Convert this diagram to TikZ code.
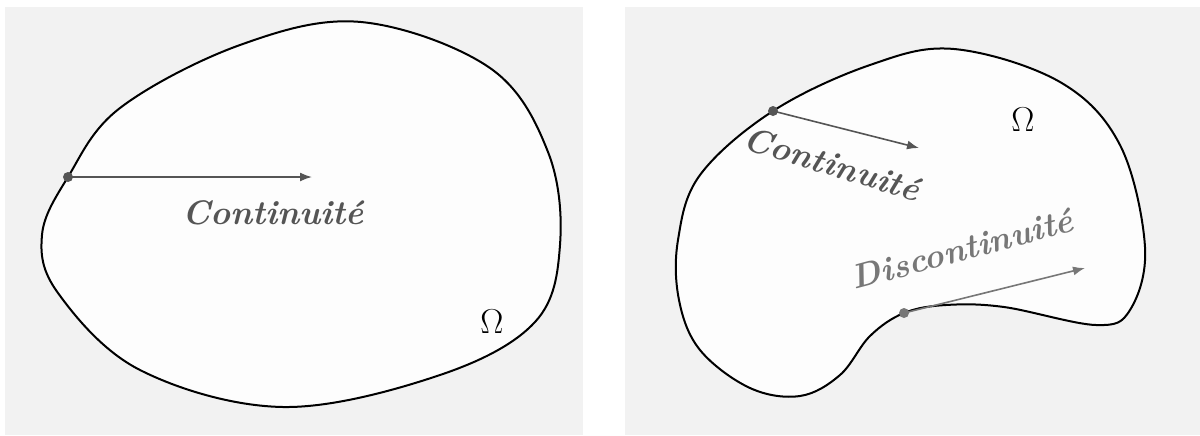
\documentclass[tikz,border=0pt]{standalone}
\usepackage{fontspec}
\usetikzlibrary{arrows.meta}
\definecolor{panel}{HTML}{F2F2F2}
\definecolor{inner}{HTML}{FDFDFD}
\definecolor{darkg}{HTML}{555555}
\definecolor{lightg}{HTML}{777777}
\tikzset{
  panelbox/.style={fill=panel, draw=none},
  blob/.style={draw=black, line width=1pt, fill=inner},
  vec/.style={line width=0.8pt, -{Latex[length=6pt,width=4.5pt]}},
  dotmark/.style={circle, fill=#1, inner sep=0pt, minimum size=5pt},
  scrlabel/.style={text=#1, font=\bfseries\itshape\fontsize{17}{20}\selectfont, inner sep=0pt},
  omega/.style={font=\fontsize{18}{21}\selectfont, inner sep=0pt}
}
\begin{document}
\begin{tikzpicture}[x=0.5pt,y=-0.5pt]
\useasboundingbox (0,0) rectangle (1200,435);
\fill[white] (0,0) rectangle (1200,435);
\path[panelbox] (5,7) rectangle (583,435);
\path[panelbox] (625,7) rectangle (1200,435);
% left blob
\draw[blob] plot[smooth cycle, tension=0.6] coordinates {
 (361,22) (490,68) (548,152) (560,245) (535,322)
 (440,375) (283,407) (140,370) (58,293) (42,235)
 (68,177) (120,108) (240,45)};
% right blob
\draw[blob] plot[smooth cycle, tension=0.6] coordinates {
 (954,49) (1060,82) (1120,145) (1145,247) (1130,310)
 (1096,325) (1004,307) (946,305) (904,313) (870,336) (840,375)
 (800,396) (750,388) (700,350) (679,300) (678,240)
 (700,175) (773,111) (870,65)};
% left panel
\node[dotmark=darkg] (p1) at (68,177) {};
\coordinate (e1) at (312,177);
\draw[vec, darkg] (p1.center) -- (e1);
\node[scrlabel=darkg] (t1) at (273,213) {Continuité};
\node[omega] (o1) at (492,322) {$\Omega$};
% right panel
\node[dotmark=darkg] (p2) at (773,111) {};
\coordinate (e2) at (919,148);
\draw[vec, darkg] (p2.center) -- (e2);
\node[scrlabel=darkg, rotate=-17] (t2) at (832,164) {Continuité};
\node[dotmark=lightg] (p3) at (904,313) {};
\coordinate (e3) at (1085,268);
\draw[vec, lightg] (p3.center) -- (e3);
\node[scrlabel=lightg, rotate=15] (t3) at (962,249) {Discontinuité};
\node[omega] (o2) at (1023,120) {$\Omega$};
\end{tikzpicture}
\end{document}
